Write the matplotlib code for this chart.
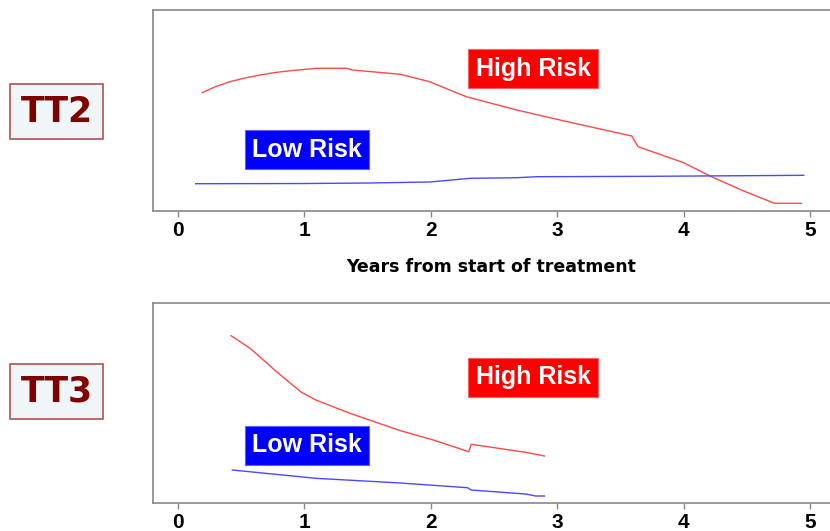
import matplotlib
matplotlib.use("Agg")
import matplotlib.pyplot as plt

# TT2: years from start of treatment vs curve height (arbitrary units)
tt2_high_x = [0.19, 0.30, 0.41, 0.53, 0.65, 0.77, 0.89, 1.10, 1.33, 1.38, 1.76, 1.99, 2.28, 2.68, 3.08, 3.59, 3.64, 4.00, 4.22, 4.47, 4.72, 4.93]
tt2_high_y = [118.3, 124.5, 129.3, 133, 136, 138.5, 140.3, 142.7, 142.7, 141, 136.7, 129.3, 114.3, 101, 89.3, 75, 64.3, 48.3, 34.3, 20.3, 7.7, 7.7]
tt2_low_x = [0.14, 1.0, 1.5, 1.99, 2.31, 2.68, 2.84, 3.73, 4.95]
tt2_low_y = [27.3, 27.5, 28, 29, 32.7, 33.3, 34.3, 34.7, 35.7]

# TT3
tt3_high_x = [0.42, 0.57, 0.78, 0.97, 1.09, 1.36, 1.76, 2.02, 2.30, 2.32, 2.75, 2.90]
tt3_high_y = [167.3, 154.7, 131.3, 111.3, 103, 89.7, 72.3, 63, 51.3, 58.7, 50.7, 47]
tt3_low_x = [0.43, 1.09, 1.76, 2.29, 2.32, 2.75, 2.83, 2.90]
tt3_low_y = [33, 24.7, 20, 15.3, 13, 9, 7, 7]

xticks = [0, 1, 2, 3, 4, 5]

plt.rcParams['font.family'] = ['Liberation Sans', 'DejaVu Sans']

fig = plt.figure(figsize=(8.30, 5.31), dpi=100)
ax1 = fig.add_axes([0.1843, 0.6026, 0.8157, 0.3786])
ax2 = fig.add_axes([0.1843, 0.0527, 0.8157, 0.3767])

panels = [
    (ax1, tt2_high_x, tt2_high_y, tt2_low_x, tt2_low_y, 201, (2.81, 142), (1.02, 61.3)),
    (ax2, tt3_high_x, tt3_high_y, tt3_low_x, tt3_low_y, 200, (2.81, 125.5), (1.02, 58)),
]

for ax, hx, hy, lx, ly, ytop, hpos, lpos in panels:
    ax.plot(hx, hy, color='#ff4848', linewidth=1.0)
    ax.plot(lx, ly, color='#4848ff', linewidth=1.0)
    ax.set_xlim(-0.198, 5.158)
    ax.set_ylim(0, ytop)
    ax.set_xticks(xticks)
    ax.set_xticklabels([str(t) for t in xticks], fontsize=15, fontweight='bold')
    ax.set_yticks([])
    ax.spines['right'].set_visible(False)
    for s in ['left', 'top', 'bottom']:
        ax.spines[s].set_color('#888888')
        ax.spines[s].set_linewidth(1.2)
    ax.tick_params(axis='x', direction='out', length=4, width=1, color='#888888', pad=3)
    ax.text(hpos[0], hpos[1], 'High Risk', color='white', fontsize=18, fontweight='bold',
            ha='center', va='center',
            bbox=dict(boxstyle='square,pad=0.3', facecolor='#ff0000', edgecolor='#ff6060', linewidth=0.8))
    ax.text(lpos[0], lpos[1], 'Low Risk', color='white', fontsize=18, fontweight='bold',
            ha='center', va='center',
            bbox=dict(boxstyle='square,pad=0.3', facecolor='#0000ff', edgecolor='#6060ff', linewidth=0.8))

ax1.set_xlabel('Years from start of treatment', fontsize=12.5, fontweight='bold',
               family='DejaVu Sans', labelpad=13)

for label, ycen in [('TT2', 1 - 111.5 / 531), ('TT3', 1 - 391.5 / 531)]:
    fig.text(0.068, ycen, label, color='#800000', fontsize=25, fontweight='heavy',
             family='DejaVu Sans', ha='center', va='center',
             bbox=dict(boxstyle='square,pad=0.3', facecolor='#f0f6f8', edgecolor='#b05050', linewidth=1.2))

fig.savefig('out.png', dpi=100)
